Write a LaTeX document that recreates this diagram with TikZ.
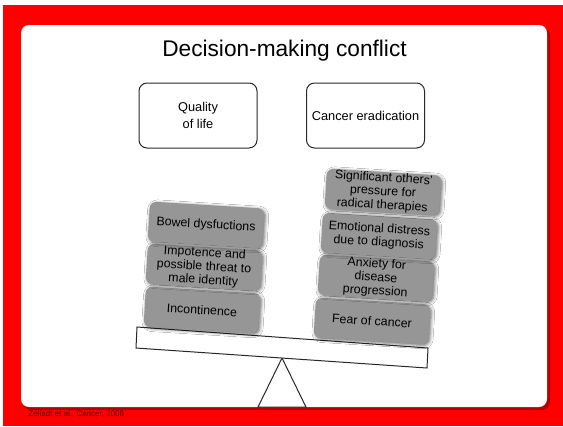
\documentclass[tikz,border=0pt]{standalone}
\usepackage{fontspec}
\setmainfont{Liberation Sans}
\usetikzlibrary{shadows.blur}

\tikzset{every picture/.style={line width=0.75pt}}
\tikzset{
  choicebox/.style={draw={rgb, 255:red, 40; green, 40; blue, 40}, fill=white, rounded corners=6pt,
    minimum width=88.5pt, minimum height=48.75pt, inner sep=2pt, align=center,
    font=\fontsize{9.6}{12.5}\selectfont},
  weightbox/.style={fill={rgb, 255:red, 150; green, 150; blue, 150}, rounded corners=5pt,
    minimum width=86pt, minimum height=30pt, inner sep=0.5pt, align=center, rotate=-3.5,
    font=\fontsize{9.3}{10.2}\selectfont,
    blur shadow={shadow xshift=1pt, shadow yshift=-1pt, shadow blur radius=2.5pt, shadow opacity=60}},
}

\begin{document}
\begin{tikzpicture}[x=0.75pt,y=0.75pt,yscale=-1,xscale=1]
\useasboundingbox (0,0) rectangle (563,426);

%Shape: Rectangle [slide frame]
\fill [color={rgb, 255:red, 255; green, 0; blue, 0 }] (3,5) rectangle (563,426);
%Shape: Rectangle [slide shadow]
\fill [color={rgb, 255:red, 90; green, 0; blue, 0 }, opacity=0.45, rounded corners=6pt] (23,28) rectangle (550,410);
%Shape: Rectangle [slide]
\fill [white, rounded corners=6pt] (21,25) rectangle (547,407);

% Text Node
\node [anchor=base, font=\fontsize{17}{20}\selectfont] (title) at (284.5,56) {Decision-making conflict};

% the two options
\node [choicebox] (quality) at (198,115.5) {Quality\\of life};
\node [choicebox] (eradication) at (365.5,115.5) {Cancer eradication};

%Shape: Triangle [fulcrum]
\draw [color={rgb, 255:red, 40; green, 40; blue, 40 }, fill=white] (282,358) -- (306,407) -- (258,407) -- cycle;
%Shape: Polygon [beam]
\draw [color={rgb, 255:red, 40; green, 40; blue, 40 }, fill=white] (137,327) -- (428,348) -- (427,368) -- (136,348) -- cycle;

% weights on the left pan
\node [weightbox] (incontinence) at (202,310) {Incontinence};
\node [weightbox] (impotence) at (204,267) {Impotence and\\possible threat to\\male identity};
\node [weightbox] (bowel) at (206,225) {Bowel dysfuctions};

% weights on the right pan
\node [weightbox] (fear) at (372,321) {Fear of cancer};
\node [weightbox] (anxiety) at (376,278) {Anxiety for\\disease\\progression};
\node [weightbox] (distress) at (379,236) {Emotional distress\\due to diagnosis};
\node [weightbox] (pressure) at (383,192) {Significant others’\\pressure for\\radical therapies};

% Text Node
\node [anchor=base west, inner sep=0pt, font=\fontsize{6}{7}\selectfont, text={rgb, 255:red, 80; green, 0; blue, 0 }] (source) at (28,416) {Zeliadt et al., Cancer, 2006};

\end{tikzpicture}
\end{document}
